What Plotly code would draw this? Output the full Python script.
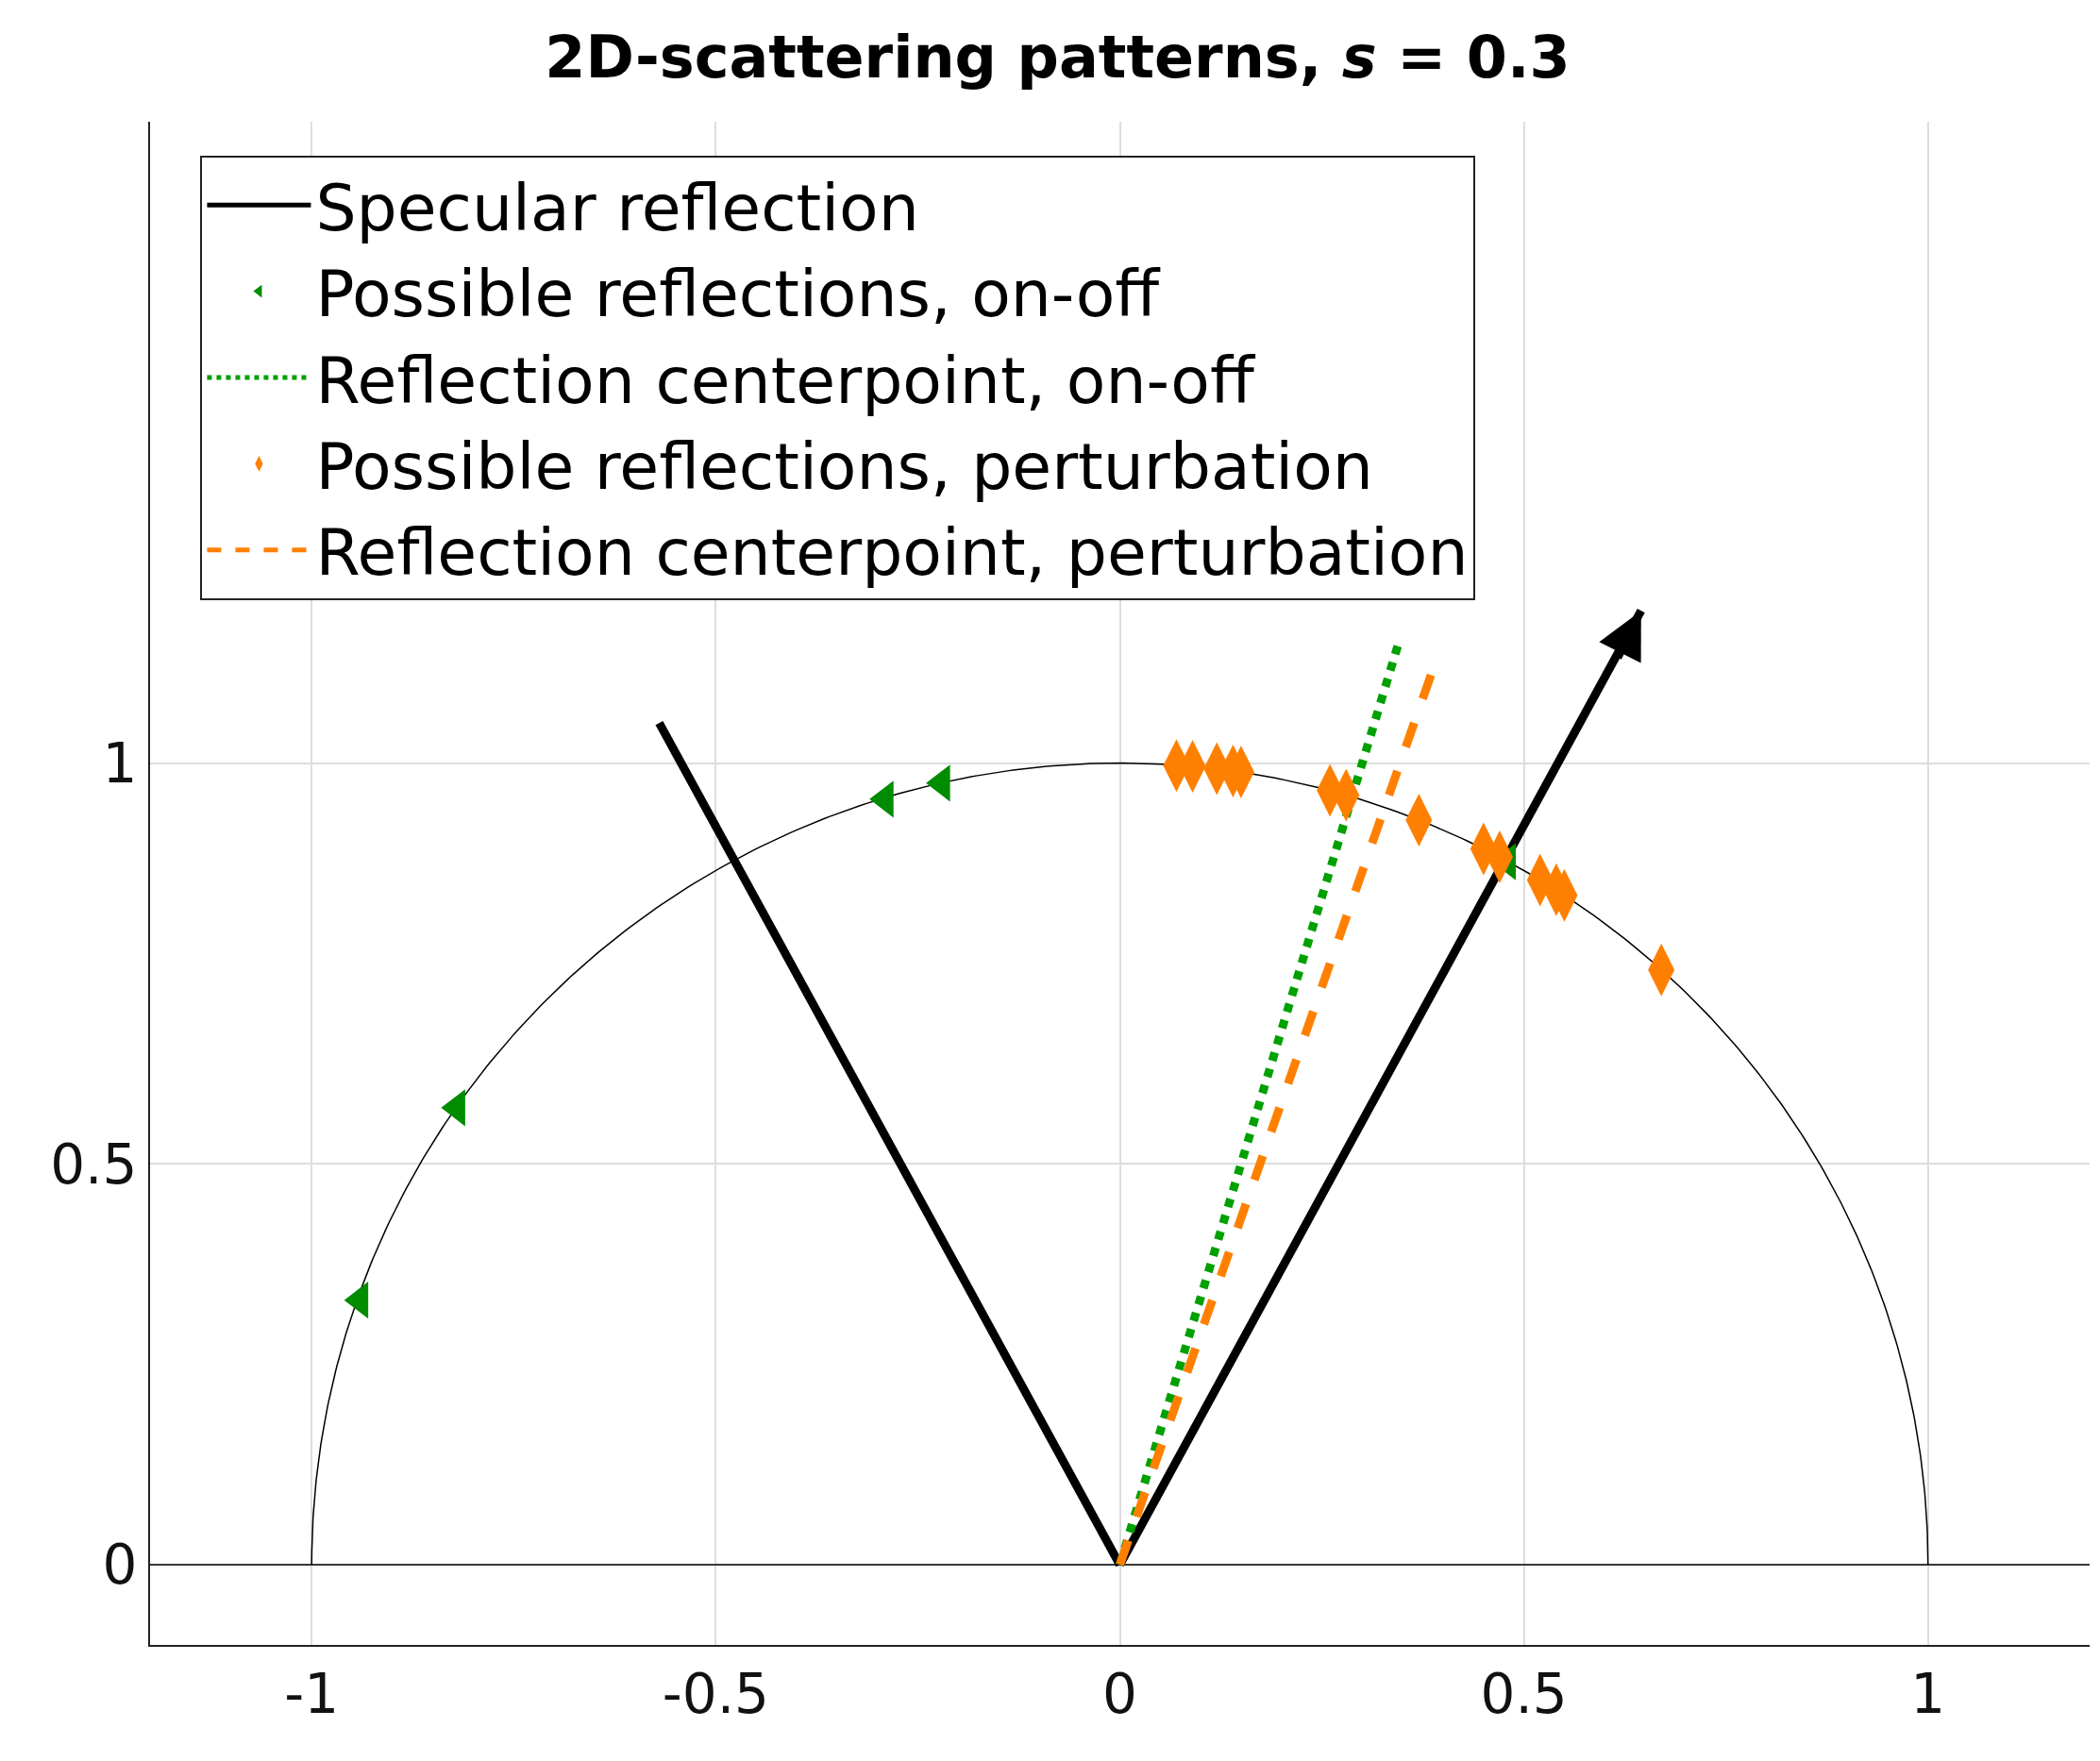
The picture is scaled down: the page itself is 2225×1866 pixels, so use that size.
import numpy as np
import plotly.graph_objects as go

incident_x = [-0.57, 0.0]
incident_y = [1.05, 0.0]
specular_x = [0.0, 0.645]
specular_y = [0.0, 1.19]
onoff_x = [-0.94, -0.82, -0.29, -0.22, 0.48]
onoff_y = [0.33, 0.57, 0.955, 0.975, 0.877]
onoff_center_x = [0.0, 0.345]
onoff_center_y = [0.0, 1.15]
pert_x = [0.07, 0.09, 0.12, 0.14, 0.15, 0.26, 0.28, 0.37, 0.45, 0.47, 0.52, 0.54, 0.55, 0.67]
pert_y = [0.997, 0.996, 0.993, 0.99, 0.989, 0.966, 0.96, 0.929, 0.893, 0.883, 0.854, 0.842, 0.835, 0.742]
pert_center_x = [0.0, 0.385]
pert_center_y = [0.0, 1.11]
xticks = [-1, -0.5, 0, 0.5, 1]
xticklabels = ["-1", "-0.5", "0", "0.5", "1"]
yticks = [0, 0.5, 1]
yticklabels = ["0", "0.5", "1"]

th = np.linspace(0, np.pi, 400)
fig = go.Figure()
fig.add_trace(go.Scatter(x=np.cos(th), y=np.sin(th), mode="lines", line=dict(color="black", width=1.5), showlegend=False, hoverinfo="skip"))
fig.add_trace(go.Scatter(x=[-1.2, 1.2], y=[0, 0], mode="lines", line=dict(color="black", width=1.5), showlegend=False))
fig.add_trace(go.Scatter(x=incident_x, y=incident_y, mode="lines", line=dict(color="black", width=9), showlegend=False))
fig.add_trace(go.Scatter(x=specular_x, y=specular_y, mode="lines", line=dict(color="black", width=9), name="Specular reflection"))
fig.add_trace(go.Scatter(x=onoff_x, y=onoff_y, mode="markers", marker=dict(symbol="triangle-left", size=34, color="#008C00"), name="Possible reflections, on-off"))
fig.add_trace(go.Scatter(x=onoff_center_x, y=onoff_center_y, mode="lines", line=dict(color="#00A000", width=9, dash="dot"), name="Reflection centerpoint, on-off"))
fig.add_trace(go.Scatter(x=pert_x, y=pert_y, mode="markers", marker=dict(symbol="diamond-tall", size=40, color="#FF8000"), name="Possible reflections, perturbation"))
fig.add_trace(go.Scatter(x=pert_center_x, y=pert_center_y, mode="lines", line=dict(color="#FF8000", width=9, dash="dash"), name="Reflection centerpoint, perturbation"))

fig.add_annotation(x=specular_x[1], y=specular_y[1], ax=specular_x[1] - 0.03, ay=specular_y[1] - 0.06,
                   xref="x", yref="y", axref="x", ayref="y", showarrow=True, arrowhead=2,
                   arrowsize=1.1, arrowwidth=9, arrowcolor="black", text="")

fig.update_layout(
    width=2225, height=1866, paper_bgcolor="white", plot_bgcolor="white",
    margin=dict(l=151, r=19, t=121, b=131),
    font=dict(family="DejaVu Sans", size=58, color="#111111"),
    title=dict(text="<b>2D-scattering patterns, <i>s</i> = 0.3</b>", x=0.5, xanchor="center", y=0.972, yanchor="middle", font=dict(size=62, color="black")),
    legend=dict(x=0.026, y=0.978, xanchor="left", yanchor="top", bordercolor="#222222", borderwidth=2,
                bgcolor="white", font=dict(size=68, color="black"), itemwidth=110, tracegroupgap=0, itemsizing="constant"),
    xaxis=dict(range=[-1.2, 1.2], tickvals=xticks, ticktext=xticklabels, showgrid=True, gridcolor="#DDDDDD", gridwidth=2,
               zeroline=False, showline=True, linecolor="#222222", linewidth=2, ticks=""),
    yaxis=dict(range=[-0.1, 1.8], tickvals=yticks, ticktext=yticklabels, showgrid=True, gridcolor="#DDDDDD", gridwidth=2,
               zeroline=False, showline=True, linecolor="#222222", linewidth=2, ticks=""),
)
fig.write_html("out.html")
